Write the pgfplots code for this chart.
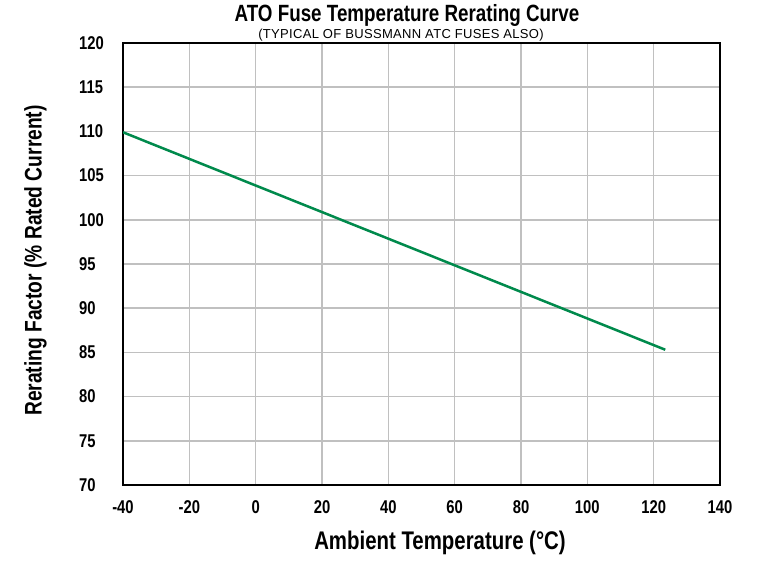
\documentclass[border=0pt]{standalone}
\usepackage{fontspec}
\setmainfont{Liberation Sans}
\newfontfamily\cond{Liberation Sans}[FakeStretch=0.80]
\usepackage{pgfplots}
\pgfplotsset{compat=1.18}
\definecolor{linegreen}{RGB}{0,138,76}
\definecolor{gridgray}{RGB}{192,192,192}
\begin{document}
\begin{tikzpicture}[x=1pt,y=1pt]
\useasboundingbox (0,0) rectangle (765,572);
\begin{axis}[
  at={(123pt,87pt)}, anchor=south west,
  width=597pt, height=442pt, scale only axis,
  xmin=-40, xmax=140, ymin=70, ymax=120,
  xtick={-40,-20,...,140}, ytick={70,75,...,120},
  grid=major,
  major grid style={gridgray, line width=1.6pt},
  axis line style={black, line width=2.2pt},
  major tick length=0pt,
  /pgf/number format/assume math mode=true,
  ticklabel style={font=\cond\bfseries\fontsize{18.5}{20}\selectfont, inner sep=0pt},
  xticklabel style={anchor=north, yshift=-15pt},
  yticklabel style={anchor=west, xshift=-44pt},
]
\addplot[linegreen, line width=2.5pt] coordinates {(-40,109.9) (123.5,85.3)};
\end{axis}
\node[font=\cond\bfseries\fontsize{23.5}{26}\selectfont, anchor=base, inner sep=0pt] at (407,550.3) {ATO Fuse Temperature Rerating Curve};
\node[font=\fontsize{13}{15}\selectfont\addfontfeature{LetterSpace=2.5}, anchor=base, inner sep=0pt] at (401,533.7) {(TYPICAL OF BUSSMANN ATC FUSES ALSO)};
\node[font=\cond\bfseries\fontsize{25.5}{28}\selectfont, anchor=base, inner sep=0pt] at (440,22) {Ambient Temperature (\textdegree C)};
\node[font=\cond\bfseries\fontsize{24}{28}\selectfont, rotate=90, anchor=base, inner sep=0pt] at (41.5,311.5) {Rerating Factor (\% Rated Current)};
\end{tikzpicture}
\end{document}
